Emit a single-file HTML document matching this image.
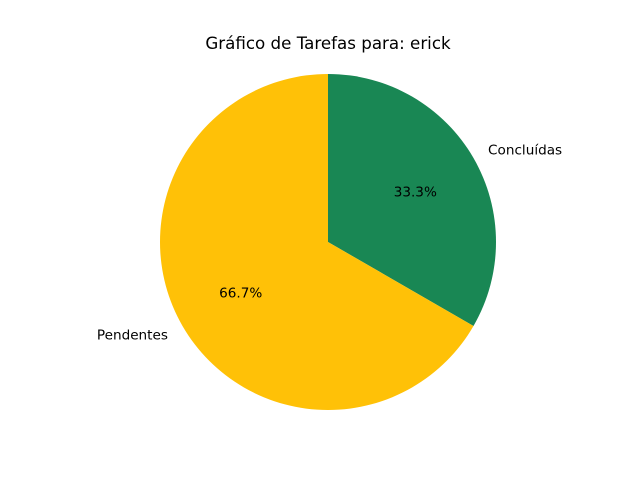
<!DOCTYPE html>
<html>
<head>
<meta charset="utf-8">
<style>
  html,body{margin:0;padding:0;background:#fff;}
  svg{display:block;}
  text{font-family:"DejaVu Sans","Liberation Sans",sans-serif;fill:#000;}
</style>
</head>
<body>
<svg id="chart" width="640" height="480" viewBox="0 0 640 480">
  <rect width="640" height="480" fill="#fff"/>
  <text x="328" y="49" text-anchor="middle" font-size="16.7">Gráfico de Tarefas para: erick</text>
  <g id="slices"></g>
  <g id="labels"></g>
</svg>
<script>
const categories = ["Concluídas", "Pendentes"];
const values = [1, 2];
const colors = ["#198754", "#ffc107"];

const cx = 328, cy = 242, r = 168;
const NS = "http://www.w3.org/2000/svg";
const total = values.reduce((a, b) => a + b, 0);
const slices = document.getElementById("slices");
const labels = document.getElementById("labels");

function pt(angDeg, rad) {
  const a = angDeg * Math.PI / 180;
  return [cx + rad * Math.cos(a), cy - rad * Math.sin(a)];
}

let start = 90;
values.forEach((v, i) => {
  const sweep = v / total * 360;
  const end = start - sweep;
  const [x1, y1] = pt(start, r);
  const [x2, y2] = pt(end, r);
  const large = sweep > 180 ? 1 : 0;
  const path = document.createElementNS(NS, "path");
  path.setAttribute("d", `M${cx},${cy} L${x1},${y1} A${r},${r} 0 ${large} 1 ${x2},${y2} Z`);
  path.setAttribute("fill", colors[i]);
  
  
  slices.appendChild(path);

  const mid = start - sweep / 2;
  const [lx, ly] = pt(mid, r * 1.1);
  const lab = document.createElementNS(NS, "text");
  lab.setAttribute("x", lx);
  lab.setAttribute("y", ly + 5);
  lab.setAttribute("font-size", "13.6");
  lab.setAttribute("text-anchor", Math.cos(mid * Math.PI / 180) >= 0 ? "start" : "end");
  lab.textContent = categories[i];
  
  
  labels.appendChild(lab);

  const [px, py] = pt(mid, r * 0.6);
  const pct = document.createElementNS(NS, "text");
  pct.setAttribute("x", px);
  pct.setAttribute("y", py + 5);
  pct.setAttribute("font-size", "13.6");
  pct.setAttribute("text-anchor", "middle");
  pct.textContent = (v / total * 100).toFixed(1) + "%";
  
  
  labels.appendChild(pct);

  start = end;
});
</script>
</body>
</html>
